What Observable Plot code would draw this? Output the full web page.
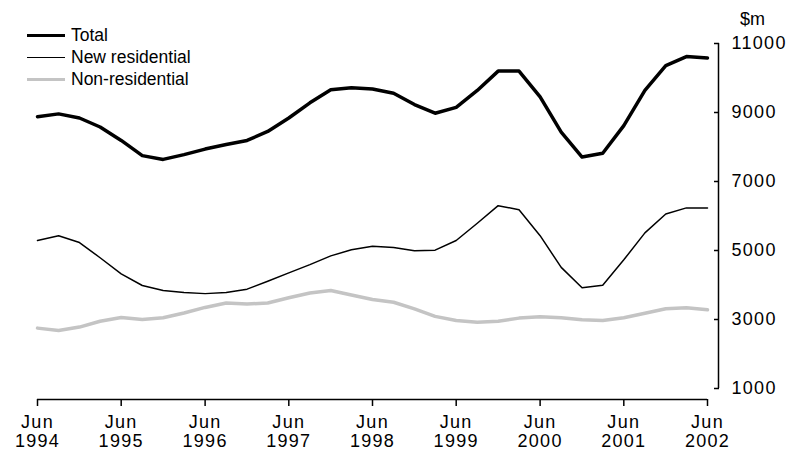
<!DOCTYPE html>
<html>
<head>
<meta charset="utf-8">
<script src="https://cdn.jsdelivr.net/npm/d3@7"></script>
<script src="https://cdn.jsdelivr.net/npm/@observablehq/plot@0.6"></script>
<style>
  body { margin: 0; background: #fff; }
  #wrap { position: relative; width: 794px; height: 452px; font-family: "Liberation Sans", Arial, sans-serif; }
  .leg { position: absolute; left: 27px; font-size: 17.5px; color: #000; display: flex; align-items: center; height: 20px; }
  .leg span.sw { display: inline-block; width: 38px; margin-right: 6px; }
  #unit { position: absolute; left: 740px; top: 9px; font-size: 18px; }
  #chart svg text { letter-spacing: 1.3px; }
</style>
</head>
<body>
<div id="wrap">
  <div id="chart"></div>
  <div class="leg" style="top:25px"><span class="sw" style="border-top:3.5px solid #000"></span>Total</div>
  <div class="leg" style="top:47px"><span class="sw" style="border-top:1.5px solid #000"></span>New residential</div>
  <div class="leg" style="top:69px"><span class="sw" style="border-top:3.5px solid #c4c4c4"></span>Non-residential</div>
  <div id="unit">$m</div>
</div>
<script>
// Quarterly series, Jun 1994 to Jun 2002 ($m)
const startYear = 1994;
const startMonth = 5; // June (0-based)
const total = [8880, 8960, 8840, 8580, 8190, 7750, 7640, 7780, 7940, 8070, 8190, 8450,
  8840, 9280, 9660, 9720, 9680, 9560, 9230, 8980, 9150, 9640, 10200, 10200,
  9450, 8430, 7710, 7820, 8620, 9640, 10360, 10620, 10580];
const newResidential = [5290, 5425, 5230, 4790, 4325, 3985, 3840, 3780, 3750, 3780, 3880, 4110,
  4350, 4590, 4845, 5020, 5120, 5090, 4990, 5010, 5290, 5790, 6300, 6180,
  5430, 4510, 3920, 3995, 4730, 5510, 6060, 6235, 6235];
const nonResidential = [2750, 2680, 2780, 2950, 3060, 3000, 3050, 3190, 3350, 3480, 3450, 3480,
  3630, 3770, 3840, 3710, 3580, 3500, 3310, 3090, 2970, 2920, 2950, 3040,
  3080, 3050, 2990, 2970, 3050, 3180, 3310, 3340, 3280];
const tickYears = [1994, 1995, 1996, 1997, 1998, 1999, 2000, 2001, 2002];
const yTicks = [1000, 3000, 5000, 7000, 9000, 11000];

const dates = total.map((_, i) => new Date(Date.UTC(startYear, startMonth + 3 * i, 1)));
const rows = (vals, series) => vals.map((v, i) => ({date: dates[i], value: v, series}));
const tickDates = tickYears.map(y => new Date(Date.UTC(y, startMonth, 1)));
const first = dates[0], last = dates[dates.length - 1];

const chart = Plot.plot({
  width: 794,
  height: 452,
  marginLeft: 37,
  marginRight: 76,
  marginTop: 43,
  marginBottom: 53,
  insetRight: 11,
  insetBottom: 11,
  x: {type: "utc", domain: [first, last]},
  y: {domain: [1000, 11000]},
  style: {fontFamily: "Liberation Sans, Arial, sans-serif", fontSize: "18px", color: "#000", background: "transparent", overflow: "visible"},
  marks: [
    Plot.ruleY([1000], {x1: () => first, x2: () => last, dy: 11, stroke: "#000", strokeWidth: 1.5}),
    Plot.ruleX([last], {y1: () => 1000, y2: () => 11000, dx: 11, stroke: "#000", strokeWidth: 1.5}),
    Plot.axisX({anchor: "bottom", ticks: tickDates, tickFormat: d => `Jun\n${d.getUTCFullYear()}`,
      tickSize: 7, tickPadding: 7, lineHeight: 1.1, label: null, strokeWidth: 1.5}),
    Plot.axisY({anchor: "right", ticks: yTicks, tickFormat: d => String(d), tickSize: -5, tickPadding: 18,
      label: null, strokeWidth: 1.5}),
    Plot.line(rows(nonResidential, "Non-residential"), {x: "date", y: "value", stroke: "#c4c4c4", strokeWidth: 3.5}),
    Plot.line(rows(newResidential, "New residential"), {x: "date", y: "value", stroke: "#000", strokeWidth: 1.5}),
    Plot.line(rows(total, "Total"), {x: "date", y: "value", stroke: "#000", strokeWidth: 3.5})
  ]
});
document.getElementById("chart").appendChild(chart);
</script>
</body>
</html>
